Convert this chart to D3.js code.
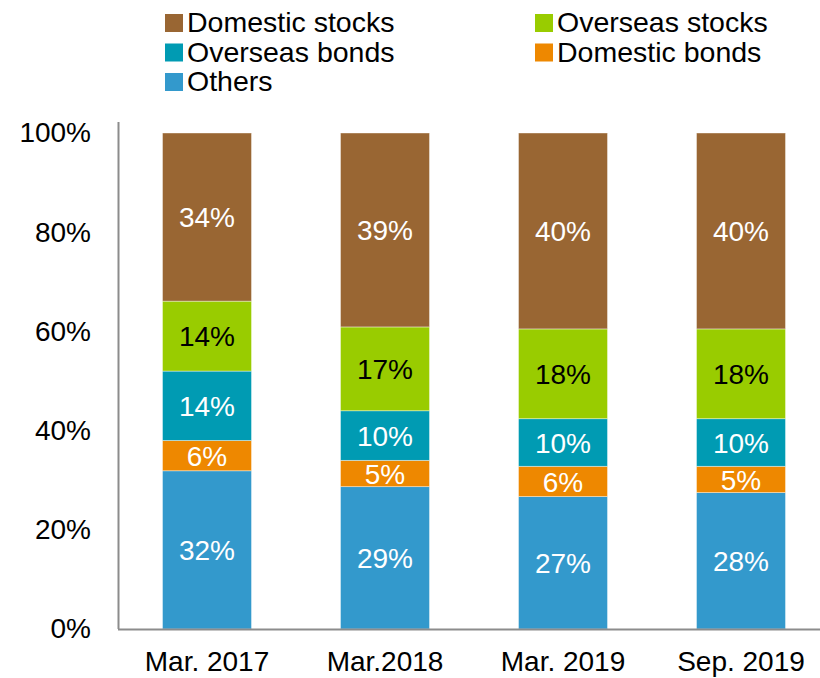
<!DOCTYPE html>
<html>
<head>
<meta charset="utf-8">
<script src="https://cdn.jsdelivr.net/npm/d3@7"></script>
<style>
  body { margin: 0; background: #fff; }
  text { font-family: "Liberation Sans", Arial, sans-serif; }
</style>
</head>
<body>
<div id="chart"></div>
<script>
// data (percent of total)
const periods = ["Mar. 2017", "Mar.2018", "Mar. 2019", "Sep. 2019"];
const others = [31.9, 28.7, 26.7, 27.5];
const domesticBonds = [6.1, 5.3, 6.1, 5.3];
const overseasBonds = [14.0, 10.0, 9.6, 9.6];
const overseasStocks = [14.1, 16.9, 18.1, 18.1];
const domesticStocks = [33.9, 39.1, 39.5, 39.5];
const yTicks = [0, 20, 40, 60, 80, 100];

const series = [
  {key: "Others", values: others, color: "#3399cc", label: "#fff"},
  {key: "Domestic bonds", values: domesticBonds, color: "#ee8800", label: "#fff"},
  {key: "Overseas bonds", values: overseasBonds, color: "#009bb3", label: "#fff"},
  {key: "Overseas stocks", values: overseasStocks, color: "#99cc00", label: "#000"},
  {key: "Domestic stocks", values: domesticStocks, color: "#996633", label: "#fff"}
];

const width = 820;
const height = 678;

const svg = d3.select("#chart")
  .append("svg")
  .attr("width", width)
  .attr("height", height);

// build rows for d3.stack
const rows = periods.map((p, i) => {
  const r = {period: p};
  series.forEach(s => r[s.key] = s.values[i]);
  return r;
});

const stacked = d3.stack().keys(series.map(s => s.key))(rows);

const xScale = d3.scaleBand()
  .domain(periods)
  .range([118, 830])
  .paddingInner(0.5)
  .paddingOuter(0.25);

const yScale = d3.scaleLinear()
  .domain([0, 100])
  .range([629, 133]);

// bars
const layers = svg.selectAll(".layer")
  .data(stacked)
  .enter()
  .append("g")
  .attr("class", "layer")
  .attr("fill", (d, i) => series[i].color);

layers.selectAll("rect")
  .data(d => d)
  .enter()
  .append("rect")
  .attr("x", d => xScale(d.data.period))
  .attr("y", d => yScale(d[1]))
  .attr("width", xScale.bandwidth())
  .attr("height", d => yScale(d[0]) - yScale(d[1]))
  .attr("stroke", "#fff")
  .attr("stroke-opacity", 0.5)
  .attr("stroke-width", 0.8);

// value labels
layers.each(function(layer, i) {
  d3.select(this).selectAll("text")
    .data(layer)
    .enter()
    .append("text")
    .attr("x", d => xScale(d.data.period) + xScale.bandwidth() / 2)
    .attr("y", d => (yScale(d[0]) + yScale(d[1])) / 2)
    .attr("dy", "0.36em")
    .attr("text-anchor", "middle")
    .attr("font-size", 28)
    .attr("fill", series[i].label)
    .text(d => Math.round(d[1] - d[0]) + "%");
});

// y axis
const yAxis = svg.append("g")
  .attr("transform", "translate(118,0)")
  .call(d3.axisLeft(yScale).tickValues(yTicks).tickSize(0).tickPadding(27).tickFormat(d => d + "%"));
yAxis.select(".domain").remove();
yAxis.selectAll("text")
  .attr("font-size", 28)
  .attr("fill", "#000")
  .attr("font-family", "Liberation Sans, Arial, sans-serif");

svg.append("line")
  .attr("x1", 118.5).attr("x2", 118.5)
  .attr("y1", 122).attr("y2", yScale(0))
  .attr("stroke", "#8c8c8c")
  .attr("stroke-width", 2);

// x axis
const xAxis = svg.append("g")
  .attr("transform", `translate(0,${yScale(0)})`)
  .call(d3.axisBottom(xScale).tickSize(0).tickPadding(22));
xAxis.select(".domain").remove();
xAxis.selectAll("text")
  .attr("font-size", 28)
  .attr("fill", "#000")
  .attr("font-family", "Liberation Sans, Arial, sans-serif");

svg.append("line")
  .attr("x1", 118).attr("x2", width)
  .attr("y1", yScale(0) + 0.5).attr("y2", yScale(0) + 0.5)
  .attr("stroke", "#8c8c8c")
  .attr("stroke-width", 2);

// legend
const legendOrder = ["Domestic stocks", "Overseas stocks", "Overseas bonds", "Domestic bonds", "Others"];
const legend = svg.selectAll(".legend")
  .data(legendOrder)
  .enter()
  .append("g")
  .attr("class", "legend")
  .attr("transform", (d, i) => `translate(${i % 2 === 0 ? 165 : 535},${23 + Math.floor(i / 2) * 29.5})`);

legend.append("rect")
  .attr("x", 0)
  .attr("y", -9)
  .attr("width", 18)
  .attr("height", 18)
  .attr("fill", d => series.find(s => s.key === d).color);

legend.append("text")
  .attr("x", 22)
  .attr("y", 0)
  .attr("dy", "0.33em")
  .attr("font-size", 28.5)
  .attr("fill", "#000")
  .text(d => d);
</script>
</body>
</html>
